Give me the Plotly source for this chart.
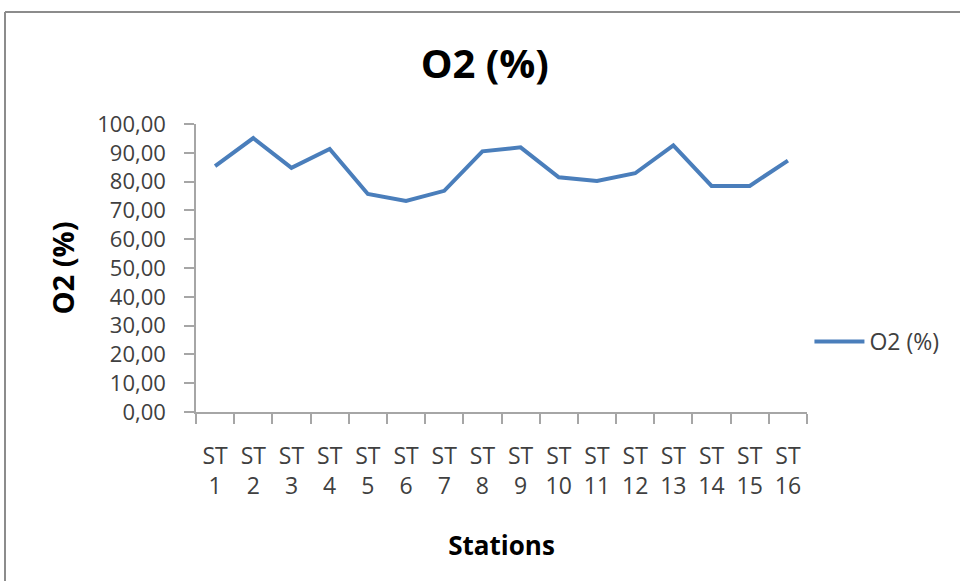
import plotly.graph_objects as go

stations = ["ST<br>%d" % i for i in range(1, 17)]
o2 = [85.4, 95.1, 84.8, 91.3, 75.7, 73.3, 76.8, 90.5, 91.9, 81.5, 80.2, 82.9, 92.6, 78.5, 78.5, 87.3]

FONT = "Open Sans, Liberation Sans, Arial, sans-serif"
AXIS = "#a6a6a6"

fig = go.Figure()
fig.add_trace(go.Scatter(x=stations, y=o2, mode="lines", name="O2 (%)",
                         line=dict(color="#4a7ebb", width=4)))

fig.update_layout(
    width=960, height=581,
    margin=dict(l=196, r=153, t=124, b=169, autoexpand=False),
    paper_bgcolor="white", plot_bgcolor="white",
    separators=", ",
    font=dict(family=FONT, color="#404040", size=20),
    title=dict(text="<b>O2 (%)</b>", x=0.505, xanchor="center", y=0.89, yanchor="middle",
               font=dict(family=FONT, size=40, color="black")),
    showlegend=True,
    legend=dict(x=1.004, xanchor="left", y=0.245, yanchor="middle", itemwidth=50,
                font=dict(family=FONT, size=23, color="#404040"),
                bgcolor="rgba(0,0,0,0)"),
    shapes=[dict(type="line", xref="paper", yref="paper", x0=-0.3126, x1=-0.3126, y0=1.389, y1=-0.7,
                 line=dict(color="#8c8c8c", width=2)),
            dict(type="line", xref="paper", yref="paper", x0=-0.3126, x1=1.35, y0=1.389, y1=1.389,
                 line=dict(color="#8c8c8c", width=2))],
)

fig.update_xaxes(
    range=[-0.5, 15.5],
    showline=True, linecolor=AXIS, linewidth=1.5,
    ticks="outside", tickson="boundaries", ticklen=10, tickcolor=AXIS, tickwidth=1.5,
    showgrid=False, tickangle=0, ticklabelstandoff=23,
    tickfont=dict(family=FONT, size=23, color="#404040"),
    title=dict(text="<b>Stations</b>", standoff=37, font=dict(family=FONT, size=26, color="black")),
)
fig.update_yaxes(
    range=[0, 100], dtick=10, tickformat=".2f",
    showline=True, linecolor=AXIS, linewidth=1.5,
    ticks="outside", ticklen=10, tickcolor=AXIS, tickwidth=1.5,
    showgrid=False, zeroline=False, ticklabelstandoff=14,
    tickfont=dict(family=FONT, size=22, color="#404040"),
    title=dict(text="<b>O2 (%)</b>", standoff=14, font=dict(family=FONT, size=29, color="black")),
)

fig.write_html("out.html", config={"displayModeBar": False},
               post_script="document.body.style.margin='0';document.body.style.overflow='hidden';")
